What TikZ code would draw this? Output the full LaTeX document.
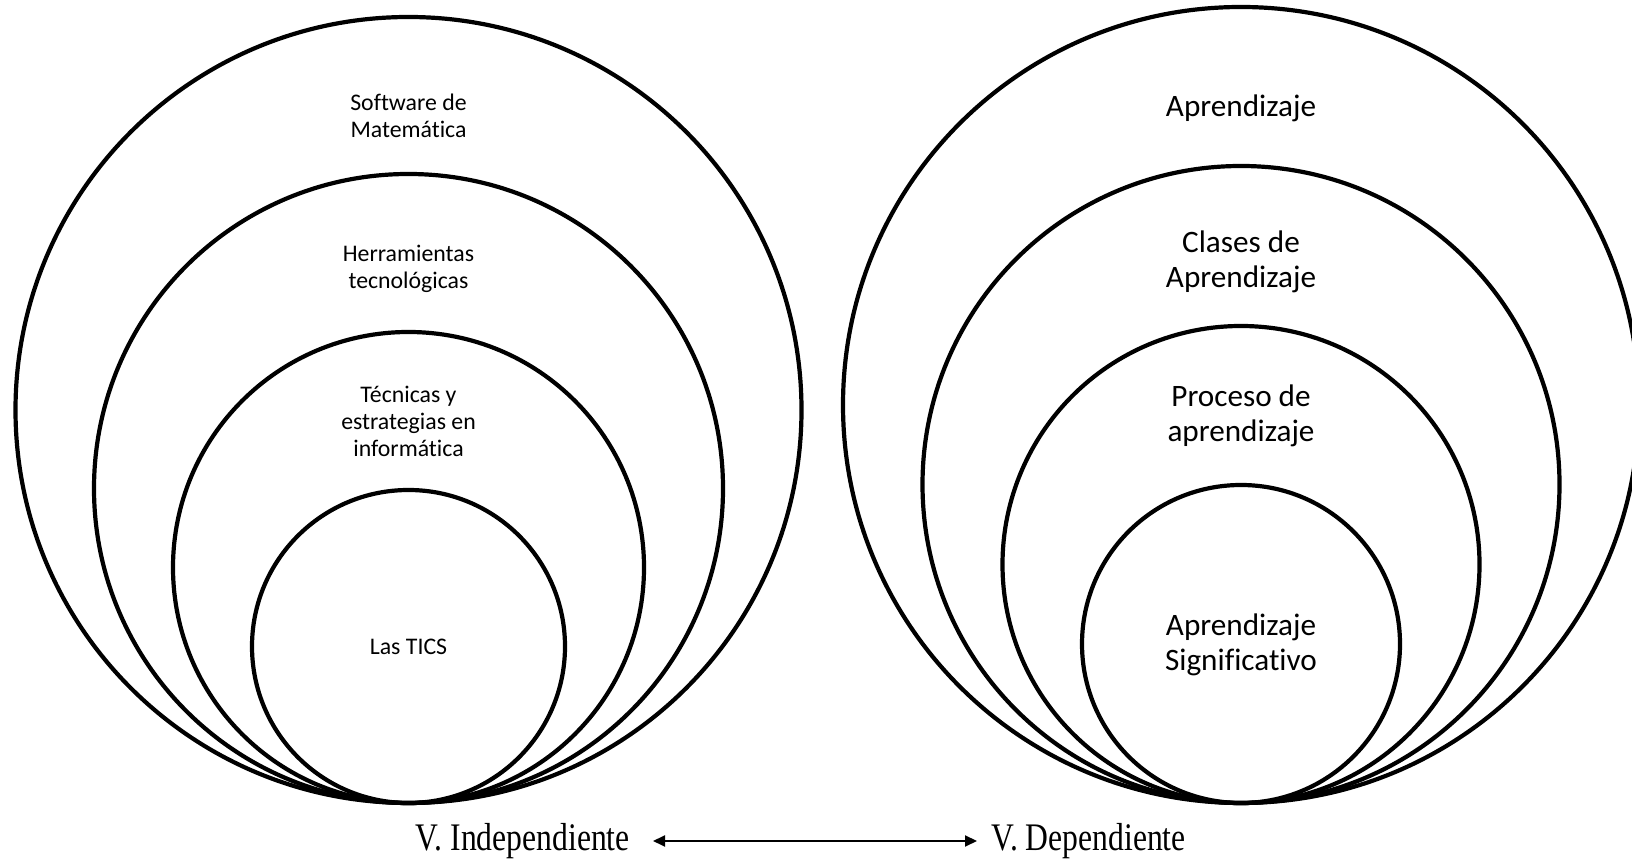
\documentclass[tikz,border=0pt]{standalone}
\usepackage{fontspec}
\setmainfont[Ligatures={NoCommon}]{Carlito}
\newfontfamily\timesfont{Liberation Serif}
\usepackage{tikz}
\usetikzlibrary{arrows.meta,positioning}

\begin{document}
\begin{tikzpicture}[x=0.5pt,y=0.5pt,>=Triangle,
  ring/.style={line width=2.1pt,black},
  small/.style={align=center,font=\fontsize{11.9}{13.4}\selectfont},
  big/.style={align=center,font=\fontsize{15.6}{17.6}\selectfont},
  var/.style={inner sep=0pt,transform shape,xscale=0.85,yscale=1.05,font=\timesfont\fontsize{18.6}{20}\selectfont}]
\useasboundingbox (0,0) rectangle (1632,861);
% 1: independent variable, rings touching at the bottom
\begin{scope}
 \foreach \r in {393,314.5,235.5,156.5} {\draw[ring] (408.5,58+\r) circle (\r);}
 \node[small] (soft) at (408.5,745.5) {Software de\\Matemática};
 \node[small] (herr) at (408.5,592.5) {Herramientas\\tecnológicas};
 \node[small] (tecn) at (408.5,439.5) {Técnicas y\\estrategias en\\informática};
 \node[small] (tics) at (408.5,214) {Las TICS};
\end{scope}
% 2: dependent variable
\begin{scope}
 \foreach \r in {398,318.5,238.5,159} {\draw[ring] (1241,58+\r) circle (\r);}
 \node[big] (apr) at (1241,753) {Aprendizaje};
 \node[big] (clases) at (1241,599) {Clases de\\Aprendizaje};
 \node[big] (proc) at (1241,445) {Proceso de\\aprendizaje};
 \node[big] (signif) at (1241,216) {Aprendizaje\\Significativo};
\end{scope}
% 3: the two variables
\node[var,anchor=east] (indep) at (630,20) {V. Independiente};
\node[var,anchor=west] (dep) at (991,20) {V. Dependiente};
\draw[<->,line width=1pt,shorten <=11.5pt,shorten >=7pt,
  >={Triangle[length=6pt,width=5.5pt]}] (indep.east) -- (dep.west);
\end{tikzpicture}
\end{document}
